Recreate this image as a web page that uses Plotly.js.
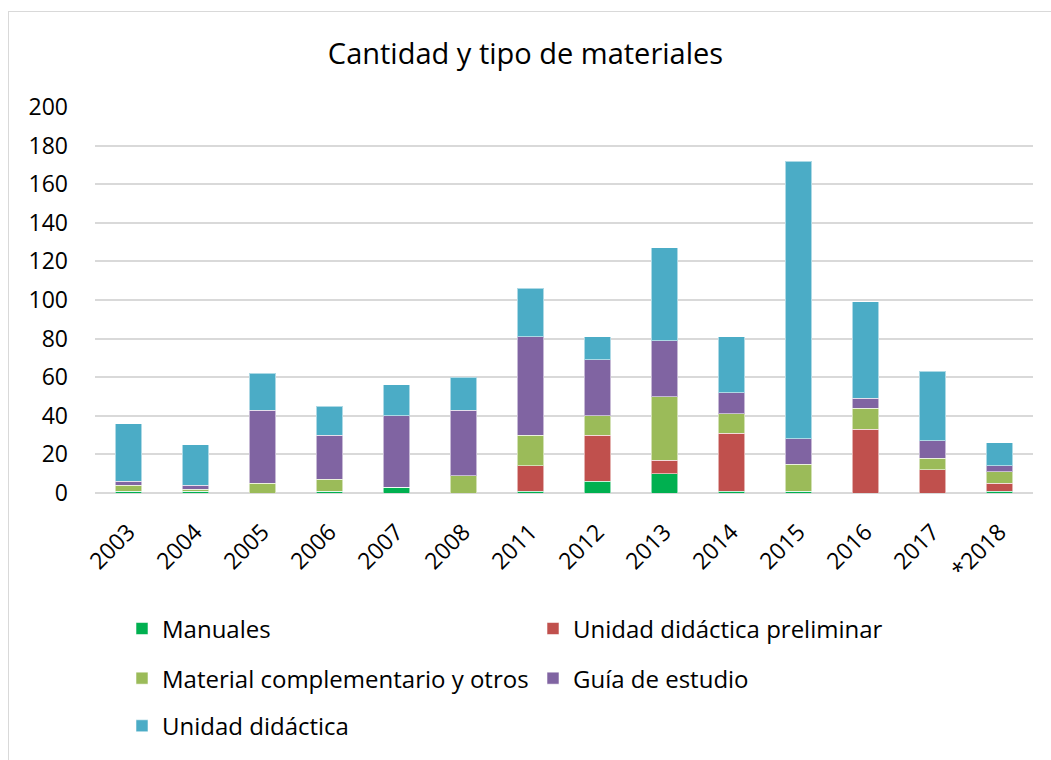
<!DOCTYPE html>
<html>
<head>
<meta charset="utf-8">
<script src="https://cdn.plot.ly/plotly-3.0.1.min.js"></script>
<style>
  html, body { margin: 0; padding: 0; background: #fff; }
  #wrap { position: relative; width: 1051px; height: 760px; overflow: hidden; }
  #chart { width: 1051px; height: 760px; }
  #frame { position: absolute; left: 8px; top: 11px; width: 1100px; height: 800px;
           border-left: 1.5px solid #d9d9d9; border-top: 1.5px solid #d9d9d9; pointer-events: none; }
</style>
</head>
<body>
<div id="wrap">
  <div id="chart"></div>
  <div id="frame"></div>
</div>
<script>
const years = ["2003","2004","2005","2006","2007","2008","2011","2012","2013","2014","2015","2016","2017","*2018"];
const manuales        = [1, 1, 0, 1, 3, 0, 1, 6, 10, 1, 1, 0, 0, 1];
const unidadPrelim    = [0, 0, 0, 0, 0, 0, 13, 24, 7, 30, 0, 33, 12, 4];
const materialComp    = [3, 1, 5, 6, 0, 9, 16, 10, 33, 10, 14, 11, 6, 6];
const guiaEstudio     = [2, 2, 38, 23, 37, 34, 51, 29, 29, 11, 13, 5, 9, 3];
const unidadDidactica = [30, 21, 19, 15, 16, 17, 25, 12, 48, 29, 144, 50, 36, 12];

const FONT = "'Open Sans', Lato, sans-serif";
const border = { color: "rgba(255,255,255,0.55)", width: 1 };

function bar(name, y, color, legend) {
  return { type: "bar", name: name, x: years, y: y, legend: legend,
           marker: { color: color, line: border }, hoverinfo: "x+y+name" };
}

const data = [
  bar("Manuales", manuales, "#00B050", "legend"),
  bar("Unidad didáctica preliminar", unidadPrelim, "#C0504D", "legend"),
  bar("Material complementario y otros", materialComp, "#9BBB59", "legend2"),
  bar("Guía de estudio", guiaEstudio, "#8064A2", "legend2"),
  bar("Unidad didáctica", unidadDidactica, "#4BACC6", "legend3")
];

const plotL = 95, plotW = 938;
function px(x) { return (x - plotL) / plotW; }
const legCommon = {
  orientation: "h", xanchor: "left", yanchor: "middle",
  font: { family: FONT, size: 24, color: "#000" },
  bgcolor: "rgba(0,0,0,0)", entrywidth: 366, entrywidthmode: "pixels",
  traceorder: "normal", itemclick: false, itemdoubleclick: false
};
const plotB = 264, plotH = 760 - 107 - 264;
function py(y) { return (760 - plotB - y) / plotH; }

const layout = {
  width: 1051, height: 760,
  margin: { l: plotL, r: 1051 - plotL - plotW, t: 107, b: plotB },
  paper_bgcolor: "#fff", plot_bgcolor: "#fff",
  font: { family: FONT, color: "#000" },
  barmode: "stack", bargap: 0.6,
  title: { text: "Cantidad y tipo de materiales", font: { family: FONT, size: 29, color: "#000" },
           x: 0.5, xanchor: "center", y: (760 - 54) / 760, yanchor: "middle", yref: "container" },
  xaxis: { type: "category", tickangle: -45, ticks: "", showgrid: false, showline: false,
           tickfont: { family: FONT, size: 23, color: "#000" }, ticklabelstandoff: 20, fixedrange: true },
  yaxis: { range: [0, 200], dtick: 20, tick0: 0, ticks: "", showline: false,
           gridcolor: "#d9d9d9", gridwidth: 1.5, zeroline: true, zerolinecolor: "#d9d9d9", zerolinewidth: 1.5,
           tickfont: { family: FONT, size: 23, color: "#000" }, ticklabelstandoff: 26, fixedrange: true },
  legend:  Object.assign({}, legCommon, { x: px(122), y: py(633) }),
  legend2: Object.assign({}, legCommon, { x: px(122), y: py(683) }),
  legend3: Object.assign({}, legCommon, { x: px(122), y: py(731) })
};

Plotly.newPlot("chart", data, layout, { displayModeBar: false, staticPlot: false });
</script>
</body>
</html>
